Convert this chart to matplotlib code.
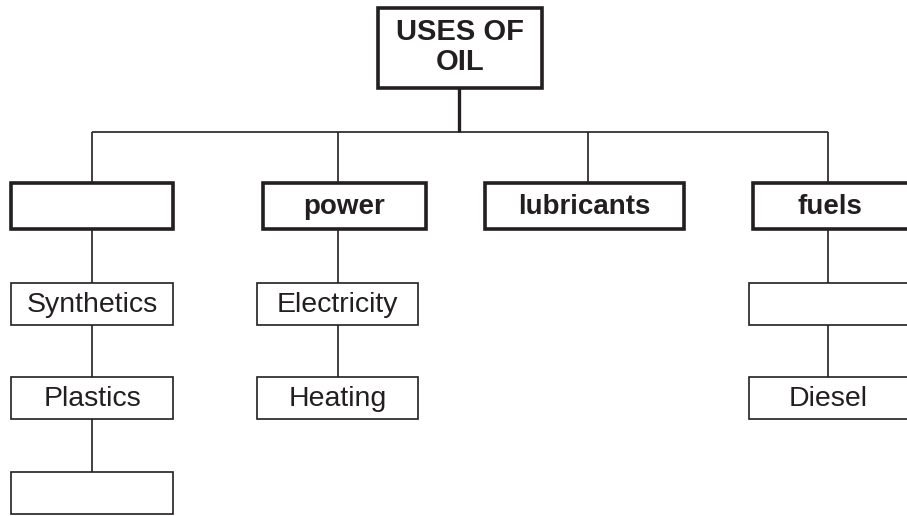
"""Tree diagram: uses of oil, with blank boxes left for the reader."""
import matplotlib

matplotlib.use("Agg")
import matplotlib.pyplot as plt
from matplotlib.patches import Rectangle

INK = "#231f20"
FONT = ["Liberation Sans", "DejaVu Sans"]

# Labels. An empty string is a box left blank.
ROOT = "USES OF\nOIL"
BRANCHES = ["", "power", "lubricants", "fuels"]
CHILDREN = [
    ["Synthetics", "Plastics", ""],
    ["Electricity", "Heating"],
    [],
    ["", "Diesel"],
]

# Layout in pixels (y grows downwards). Right column runs off the page.
W, H = 907, 516
ROOT_BOX = (378, 8, 542, 88)
BUS_Y = 132
BRANCH_BOXES = [(11, 173), (263, 426), (485, 684), (753, 940)]
BRANCH_X = [92, 338, 588, 828]
BRANCH_TOP, BRANCH_BOT = 183, 229
CHILD_BOXES = [(11, 173), (257, 418), None, (749, 940)]
CHILD_ROWS = [(283, 325), (377, 419), (472, 514)]


def box(ax, x0, y0, x1, y1, lw):
    if x1 <= W:
        ax.add_patch(Rectangle((x0, y0), x1 - x0, y1 - y0, fill=False,
                               edgecolor=INK, linewidth=lw,
                               joinstyle="miter", zorder=3))
    else:
        # open on the right: only three sides show
        ax.plot([x1, x0, x0, x1], [y0, y0, y1, y1], color=INK, linewidth=lw,
                solid_joinstyle="miter", solid_capstyle="butt", zorder=3)


def line(ax, xs, ys, lw=1.2):
    ax.plot(xs, ys, color=INK, linewidth=lw, solid_capstyle="butt", zorder=2)


def main() -> None:
    fig = plt.figure(figsize=(W / 100, H / 100), dpi=100)
    ax = fig.add_axes([0, 0, 1, 1])
    ax.set_xlim(0, W)
    ax.set_ylim(H, 0)
    ax.axis("off")

    # root
    x0, y0, x1, y1 = ROOT_BOX
    box(ax, x0, y0, x1, y1, 2.6)
    ax.text((x0 + x1) / 2, (y0 + y1) / 2 - 1, ROOT, ha="center", va="center",
            fontsize=21, fontweight="bold", family=FONT, color=INK,
            linespacing=1.05)
    line(ax, [459, 459], [y1, BUS_Y], lw=2.4)
    line(ax, [BRANCH_X[0], BRANCH_X[-1]], [BUS_Y, BUS_Y])

    for i, label in enumerate(BRANCHES):
        bx = BRANCH_X[i]
        l, r = BRANCH_BOXES[i]
        line(ax, [bx, bx], [BUS_Y, BRANCH_TOP])
        box(ax, l, BRANCH_TOP, r, BRANCH_BOT, 2.6)
        ax.text((l + min(r, W)) / 2, (BRANCH_TOP + BRANCH_BOT) / 2 + 1,
                label, ha="center", va="center", fontsize=20,
                fontweight="bold", family=FONT, color=INK)

        prev_bot = BRANCH_BOT
        for j, child in enumerate(CHILDREN[i]):
            cl, cr = CHILD_BOXES[i]
            top, bot = CHILD_ROWS[j]
            line(ax, [bx, bx], [prev_bot, top])
            box(ax, cl, top, cr, bot, 1.2)
            ax.text((cl + min(cr, W)) / 2, (top + bot) / 2 + 1, child,
                    ha="center", va="center", fontsize=20.5, family=FONT,
                    color=INK)
            prev_bot = bot

    fig.savefig("out.png", dpi=100)
    plt.close(fig)


if __name__ == "__main__":
    main()
